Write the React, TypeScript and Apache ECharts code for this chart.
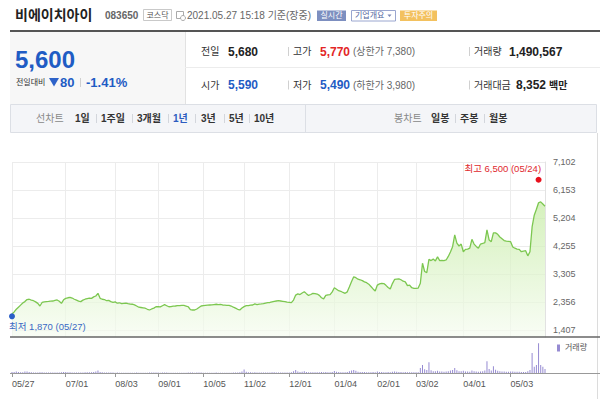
import React, { useEffect, useRef } from "react";
import * as echarts from "echarts";

// ---------- data ----------
const START_DATE = "2020-05-27";
const END_DATE = "2021-05-27";
const HOLIDAYS = [
  "2020-08-17", "2020-09-30", "2020-10-01", "2020-10-02", "2020-10-09",
  "2020-12-25", "2020-12-31", "2021-01-01", "2021-02-11", "2021-02-12",
  "2021-03-01", "2021-05-05", "2021-05-19",
];
const TICK_DATES = [
  "2020-05-27", "2020-07-01", "2020-08-03", "2020-09-01", "2020-10-05", "2020-11-02",
  "2020-12-01", "2021-01-04", "2021-02-01", "2021-03-02", "2021-04-01", "2021-05-03",
];
const PRICE_TICKS = [1407, 2356, 3305, 4255, 5204, 6153, 7102];

const CLOSE = [
  1950, 2020, 2110, 2180, 2250, 2320, 2370, 2440, 2450, 2420,
  2400, 2360, 2310, 2220, 2340, 2360, 2370, 2375, 2385, 2390,
  2410, 2425, 2380, 2310, 2430, 2480, 2500, 2515, 2490, 2450,
  2420, 2385, 2370, 2420, 2450, 2470, 2490, 2480, 2530, 2560,
  2650, 2480, 2450, 2440, 2400, 2410, 2370, 2345, 2360, 2315,
  2330, 2300, 2310, 2320, 2300, 2285, 2280, 2260, 2220, 2180,
  2170, 2160, 2145, 2110, 2085, 2120, 2150, 2195, 2200, 2190,
  2230, 2265, 2230, 2195, 2200, 2215, 2220, 2230, 2235, 2245,
  2240, 2220, 2195, 2100, 2085, 2085, 2120, 2170, 2220, 2230,
  2240, 2250, 2255, 2260, 2270, 2280, 2270, 2275, 2255, 2250,
  2245, 2245, 2220, 2180, 2150, 2110, 2085, 2150, 2200, 2230,
  2235, 2250, 2255, 2290, 2270, 2285, 2290, 2300, 2320, 2335,
  2340, 2360, 2380, 2390, 2400, 2390, 2380, 2370, 2355, 2345,
  2335, 2420, 2590, 2630, 2610, 2660, 2705, 2640, 2580, 2610,
  2650, 2640, 2625, 2580, 2500, 2460, 2580, 2600, 2605, 2700,
  2840, 2790, 2740, 2720, 2680, 2650, 2700, 2870, 3050, 3210,
  3180, 3130, 3110, 3080, 3040, 3010, 2960, 2880, 2800, 2730,
  2930, 2970, 2990, 2980, 2920, 2850, 2800, 2980, 3120, 3130,
  3140, 3110, 3060, 3040, 2910, 2930, 2840, 2820, 2815, 2830,
  2990, 3670, 3390, 3350, 3800, 3760, 3810, 3750, 3890, 3760,
  3770, 3760, 3780, 3900, 4050, 4230, 4630, 4350, 4255, 4320,
  4060, 4140, 4150, 4180, 4480, 4320, 4240, 4180, 4320, 4340,
  4370, 4800, 4460, 4400, 4700, 4700, 4650, 4560, 4500, 4440,
  4420, 4410, 4400, 4220, 4180, 4150, 4140, 4060, 4080, 4095,
  3920, 4060, 4900, 5300, 5500, 5720, 5750, 5680, 5600,
];

// volume in thousands of shares
const VOLUME = [
  350, 420, 600, 380, 300, 280, 520, 600, 380, 260,
  220, 200, 180, 300, 260, 190, 170, 160, 150, 180,
  200, 230, 170, 240, 350, 420, 300, 260, 200, 180,
  170, 160, 190, 210, 260, 240, 300, 250, 380, 520,
  900, 400, 260, 220, 180, 170, 160, 150, 140, 150,
  130, 140, 120, 130, 120, 110, 120, 130, 150, 140,
  120, 110, 120, 130, 180, 150, 200, 160, 150, 140,
  200, 230, 160, 140, 130, 120, 130, 120, 130, 140,
  120, 130, 150, 200, 160, 130, 150, 170, 160, 140,
  130, 140, 120, 130, 140, 150, 130, 120, 130, 120,
  110, 120, 140, 160, 190, 220, 300, 600, 1300, 500,
  300, 240, 220, 260, 200, 180, 190, 210, 230, 200,
  220, 240, 260, 230, 210, 190, 180, 170, 160, 170,
  260, 700, 1100, 600, 420, 500, 650, 380, 300, 320,
  300, 260, 240, 280, 350, 300, 380, 300, 280, 400,
  750, 450, 350, 300, 280, 260, 340, 700, 950, 1100,
  800, 500, 420, 380, 330, 300, 280, 300, 340, 300,
  550, 400, 360, 320, 300, 340, 300, 500, 600, 450,
  400, 360, 320, 380, 300, 280, 300, 260, 250, 280,
  1900, 3000, 1400, 1100, 4000, 1000, 700, 650, 800, 600,
  550, 500, 520, 700, 900, 1100, 1900, 1000, 700, 650,
  800, 600, 550, 500, 900, 650, 550, 500, 600, 650,
  900, 4400, 1500, 900, 2500, 1250, 800, 650, 600, 550,
  500, 480, 520, 600, 500, 450, 430, 400, 380, 420,
  700, 1100, 7500, 2300, 3000, 11200, 3000, 2300, 1500,
];
const VOLUME_AXIS_MAX = 13500;

const LOW_VALUE = 1870;
const LOW_DATE = "2020-05-27";
const HIGH_VALUE = 6500;
const HIGH_DATE = "2021-05-24";

// ---------- helpers ----------
const FONT = '"Liberation Sans", Arial, "Noto Sans CJK KR", sans-serif';
const STEP = (PRICE_TICKS[PRICE_TICKS.length - 1] - PRICE_TICKS[0]) / (PRICE_TICKS.length - 1);
const toU = (p: number) => (p - PRICE_TICKS[0]) / STEP;
const fmt = (n: number) => n.toLocaleString("en-US");
const mmdd = (d: string) => d.slice(5, 7) + "/" + d.slice(8, 10);

function buildTradingDays(): string[] {
  const out: string[] = [];
  const d = new Date(START_DATE + "T00:00:00Z");
  const end = new Date(END_DATE + "T00:00:00Z");
  while (d.getTime() <= end.getTime()) {
    const dow = d.getUTCDay();
    const s = d.toISOString().slice(0, 10);
    if (dow !== 0 && dow !== 6 && HOLIDAYS.indexOf(s) < 0) out.push(s);
    d.setUTCDate(d.getUTCDate() + 1);
  }
  return out;
}

const T = (
  text: string, x: number, y: number, size: number, fill: string,
  weight: string = "normal", align: string = "left"
) => ({
  type: "text", x, y, z: 10,
  style: { text, fontSize: size, fontWeight: weight, fill, fontFamily: FONT, align, verticalAlign: "middle" },
});
const L = (x1: number, y1: number, x2: number, y2: number, stroke: string, lw = 1) => ({
  type: "line", z: 10, shape: { x1, y1, x2, y2 }, style: { stroke, lineWidth: lw },
});
const R = (x: number, y: number, w: number, h: number, fill: string, stroke?: string) => ({
  type: "rect", z: 9, shape: { x, y, width: w, height: h },
  style: { fill, stroke: stroke || null, lineWidth: stroke ? 1 : 0 },
});

const BLUE = "#1f5cc4";
const RED = "#e32626";
const GRID_COLOR = "#ececec";

export default function App() {
  const ref = useRef<HTMLDivElement>(null);

  useEffect(() => {
    if (!ref.current) return;
    const chart = echarts.init(ref.current, null, { renderer: "svg" });
    const dates = buildTradingDays();
    const isTick = (_i: number, v: string) => TICK_DATES.indexOf(v) >= 0;

    const graphics: any[] = [
      // header
      T("비에이치아이", 15, 14.5, 14, "#222", "bold"),
      T("083650", 105, 15.5, 10, "#666", "bold"),
      R(143.5, 9.5, 28, 11, "#fff", "#c9c9c9"),
      T("코스닥", 157.5, 15.2, 8, "#555", "normal", "center"),
      R(176.5, 11.5, 7, 7, "#fff", "#aaa"),
      { type: "circle", z: 11, shape: { cx: 183, cy: 18, r: 2.5 }, style: { fill: "#fff", stroke: "#aaa", lineWidth: 1 } },
      T("2021.05.27 15:18 기준(장중)", 187, 15.5, 10, "#666"),
      R(317, 10.5, 29, 10.5, "#7d8fc0"),
      T("실시간", 331.5, 15.8, 8, "#fff", "normal", "center"),
      R(351.5, 10.5, 44, 10.5, "#fff", "#9aa6cf"),
      T("기업개요", 355, 15.8, 8, "#5566a0"),
      { type: "polygon", z: 11, shape: { points: [[387.5, 14.5], [391.5, 14.5], [389.5, 17]] }, style: { fill: "#7a86b5" } },
      R(400, 10.5, 37, 10.5, "#f3c15f"),
      T("투자주의", 418.5, 15.8, 8, "#fff", "normal", "center"),
      // table frame
      R(10, 30, 590, 2, "#555"),
      R(10, 32, 175, 72, "#f7f7f7"),
      L(185.5, 32, 185.5, 104, "#e2e2e2"),
      L(185, 67.5, 600, 67.5, "#ececec"),
      // left panel
      T("5,600", 15, 59.5, 24, BLUE, "bold"),
      T("전일대비", 16, 82, 8, "#333"),
      { type: "polygon", z: 11, shape: { points: [[49, 78], [59, 78], [54, 86.5]] }, style: { fill: "#2e63c9" } },
      T("80", 60, 82.5, 13, BLUE, "bold"),
      L(80.5, 78, 80.5, 87, "#d0d0d0"),
      T("-1.41%", 86, 82.5, 13, BLUE, "bold"),
      // right rows
      T("전일", 201, 51.3, 10, "#333"),
      T("5,680", 228, 51.5, 12, "#222", "bold"),
      L(288.5, 47, 288.5, 56, "#d0d0d0"),
      T("고가", 293, 51.3, 10, "#333"),
      T("5,770", 320, 51.5, 12, RED, "bold"),
      T("(상한가 7,380)", 353, 51.3, 10, "#666"),
      L(469.5, 47, 469.5, 56, "#d0d0d0"),
      T("거래량", 474, 51.3, 10, "#333"),
      T("1,490,567", 509, 51.5, 12, "#222", "bold"),
      T("시가", 201, 85, 10, "#333"),
      T("5,590", 228, 85.2, 12, BLUE, "bold"),
      L(288.5, 80.5, 288.5, 89.5, "#d0d0d0"),
      T("저가", 293, 85, 10, "#333"),
      T("5,490", 320, 85.2, 12, BLUE, "bold"),
      T("(하한가 3,980)", 353, 85, 10, "#666"),
      L(469.5, 80.5, 469.5, 89.5, "#d0d0d0"),
      T("거래대금", 474, 85, 10, "#333"),
      T("8,352", 516, 85.2, 12, "#222", "bold"),
      T("백만", 549, 85, 10, "#222", "bold"),
      // tab bar
      R(10.5, 104.5, 586, 28, "#f4f5f8", "#dcdfe5"),
      L(305.5, 105, 305.5, 132, "#dcdfe5"),
      T("선차트", 36, 118.5, 10, "#888"),
      T("1일", 75, 118.5, 10, "#333", "bold"),
      L(96.5, 114, 96.5, 123, "#d3d6dc"),
      T("1주일", 101, 118.5, 10, "#333", "bold"),
      L(132.5, 114, 132.5, 123, "#d3d6dc"),
      T("3개월", 137, 118.5, 10, "#333", "bold"),
      L(168.5, 114, 168.5, 123, "#d3d6dc"),
      T("1년", 173, 118.5, 10, "#2c5cc0", "bold"),
      L(195.5, 114, 195.5, 123, "#d3d6dc"),
      T("3년", 201, 118.5, 10, "#333", "bold"),
      L(224.5, 114, 224.5, 123, "#d3d6dc"),
      T("5년", 229, 118.5, 10, "#333", "bold"),
      L(249.5, 114, 249.5, 123, "#d3d6dc"),
      T("10년", 254, 118.5, 10, "#333", "bold"),
      T("봉차트", 394, 118.5, 10, "#888"),
      T("일봉", 431, 118.5, 10, "#333", "bold"),
      L(455.5, 114, 455.5, 123, "#d3d6dc"),
      T("주봉", 460, 118.5, 10, "#333", "bold"),
      L(484.5, 114, 484.5, 123, "#d3d6dc"),
      T("월봉", 489, 118.5, 10, "#333", "bold"),
      // chart frame
      L(597.5, 133, 597.5, 399, "#dcdcdc"),
      R(10, 336.3, 590, 1.5, "#666"),
      L(10, 373.5, 600, 373.5, "#999"),
    ];
    graphics[graphics.length - 1].z = 100;
    graphics[graphics.length - 2].z = 100;

    // y axis in "tick units": 0 = first tick label, 1 unit = one label step.
    // Ticks every 0.25 so that min (-0.25) is a multiple of the interval;
    // only whole units get a grid line and a label.
    const yMin = -0.25;
    const yMax = toU(PRICE_TICKS[PRICE_TICKS.length - 1]);

    const option: any = {
      animation: false,
      backgroundColor: "#fff",
      textStyle: { fontFamily: FONT },
      grid: [
        { left: 12, right: 55, top: 162, height: 175 },
        { left: 12, right: 55, top: 337, height: 36 },
      ],
      legend: {
        data: ["거래량"], left: 557, top: 344, padding: 0, icon: "rect",
        itemWidth: 3, itemHeight: 7, selectedMode: false,
        textStyle: { fontSize: 8, color: "#555", fontFamily: FONT },
      },
      xAxis: [
        {
          type: "category", gridIndex: 0, data: dates, boundaryGap: false,
          axisLine: { show: false }, axisTick: { show: false }, axisLabel: { show: false },
          splitLine: { show: true, interval: isTick, lineStyle: { color: GRID_COLOR, width: 1 } },
        },
        {
          type: "category", gridIndex: 1, data: dates, boundaryGap: false,
          axisLine: { show: false },
          axisTick: { show: true, interval: isTick, length: 4, lineStyle: { color: "#999" } },
          axisLabel: {
            show: true, interval: isTick, formatter: (v: string) => mmdd(v),
            align: "left", margin: 6, fontSize: 9, color: "#555", fontFamily: FONT,
          },
          splitLine: { show: false },
        },
      ],
      yAxis: [
        {
          type: "value", gridIndex: 0, position: "right",
          min: yMin, max: yMax, interval: 0.25,
          axisLine: { show: true, lineStyle: { color: "#e2e2e2" } },
          axisTick: { show: false },
          axisLabel: {
            margin: 8, fontSize: 9, color: "#666", fontFamily: FONT,
            showMinLabel: true, showMaxLabel: true,
            formatter: (u: number) => {
              const k = Math.round(u);
              if (Math.abs(u - k) > 1e-6 || k < 0 || k >= PRICE_TICKS.length) return "";
              return fmt(PRICE_TICKS[k]);
            },
          },
          splitLine: {
            show: true,
            lineStyle: { color: ["rgba(0,0,0,0)", GRID_COLOR, "rgba(0,0,0,0)", "rgba(0,0,0,0)"] },
          },
        },
        {
          type: "value", gridIndex: 1, min: 0, max: VOLUME_AXIS_MAX, show: false,
          splitLine: { show: false },
        },
      ],
      series: [
        {
          name: "종가", type: "line", xAxisIndex: 0, yAxisIndex: 0,
          data: CLOSE.map(toU), symbol: "none", smooth: false,
          lineStyle: { color: "#7cc750", width: 1.3 },
          areaStyle: {
            origin: "start",
            color: new echarts.graphic.LinearGradient(0, 0, 0, 1, [
              { offset: 0, color: "#c3eba0" },
              { offset: 1, color: "#f6fcf1" },
            ]),
          },
          markPoint: {
            symbol: "circle", symbolSize: 6, silent: true,
            data: [
              {
                coord: [LOW_DATE, toU(LOW_VALUE)],
                itemStyle: { color: "#2b5fc7" },
                label: {
                  show: true, formatter: `최저 ${fmt(LOW_VALUE)} (${mmdd(LOW_DATE)})`,
                  position: [0, 8], align: "left", verticalAlign: "top",
                  color: "#3a69c4", fontSize: 9.5, fontFamily: FONT,
                },
              },
              {
                coord: [HIGH_DATE, toU(HIGH_VALUE)],
                itemStyle: { color: "#e8101c" },
                label: {
                  show: true, formatter: `최고 ${fmt(HIGH_VALUE)} (${mmdd(HIGH_DATE)})`,
                  position: [5.5, -4], align: "right", verticalAlign: "bottom",
                  color: "#e0282e", fontSize: 9.5, fontFamily: FONT,
                },
              },
            ],
          },
        },
        {
          name: "거래량", type: "bar", xAxisIndex: 1, yAxisIndex: 1,
          data: VOLUME, barWidth: 1, itemStyle: { color: "#968bd2" },
        },
      ],
      graphic: { elements: graphics },
    };
    chart.setOption(option);
    return () => chart.dispose();
  }, []);

  return (
    <div
      ref={ref}
      style={{ position: "absolute", left: 0, top: 0, width: 600, height: 399 }}
    />
  );
}
